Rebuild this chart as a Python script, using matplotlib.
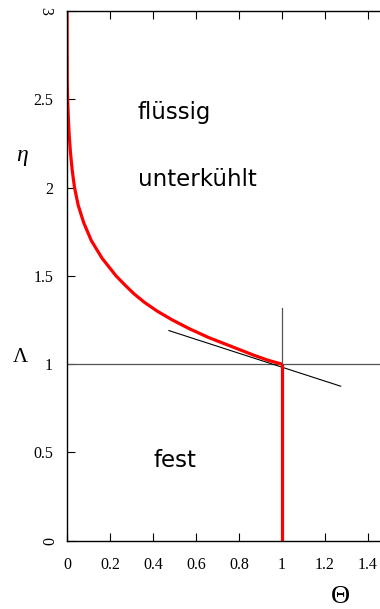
import numpy as np
import matplotlib.pyplot as plt

theta = [0.0, 0.0005, 0.001, 0.003, 0.006, 0.01, 0.016, 0.024, 0.035, 0.052,
         0.078, 0.113, 0.163, 0.228, 0.268, 0.31, 0.36, 0.42, 0.49, 0.57,
         0.66, 0.765, 0.87, 0.935, 1.0]
eta = [3.0, 2.8, 2.6, 2.5, 2.4, 2.3, 2.2, 2.1, 2.0, 1.9,
       1.8, 1.7, 1.6, 1.5, 1.45, 1.4, 1.35, 1.3, 1.25, 1.2,
       1.15, 1.1, 1.05, 1.022, 1.0]

# solid branch at Theta = 1
solid_theta = [1.0, 1.0]
solid_eta = [1.0, 0.0]

# tangent through the melting point
tan_theta = [0.474, 1.273]
tan_eta = [1.19, 0.875]

# marker lines
hline_y = 1.0
vline_theta = [1.0, 1.0]
vline_eta = [1.0, 1.32]

xticks = [0, 0.2, 0.4, 0.6, 0.8, 1.0, 1.2, 1.4]
xticklabels = ['0', '0.2', '0.4', '0.6', '0.8', '1', '1.2', '1.4']
yticks = [0, 0.5, 1.0, 1.5, 2.0, 2.5, 3.0]
yticklabels = ['0', '0.5', '1', '1.5', '2', '2.5', '3']

serif = 'Liberation Serif'

fig = plt.figure(figsize=(3.8, 6.09), dpi=100)
ax = fig.add_axes([67/380, 1 - 540.7/609, 1 - 67/380, (540.7 - 11)/609])

ax.axhline(hline_y, color='#555555', lw=0.9)
ax.plot(vline_theta, vline_eta, color='#555555', lw=0.9)
ax.plot(tan_theta, tan_eta, color='black', lw=0.8)
ax.plot(theta, eta, color='red', lw=2.3, solid_capstyle='butt',
        solid_joinstyle='round')
ax.plot(solid_theta, solid_eta, color='red', lw=2.3, solid_capstyle='butt')

ax.set_xlim(0, (380 - 67) / 215)
ax.set_ylim(0, 3)
ax.spines['right'].set_visible(False)
for s in ['left', 'top', 'bottom']:
    ax.spines[s].set_linewidth(1.0)

ax.set_xticks(xticks)
ax.set_xticklabels(xticklabels, fontfamily=serif, fontsize=11.5)
ax.set_yticks(yticks)
ax.set_yticklabels(yticklabels, fontfamily=serif, fontsize=11.5)
ax.tick_params(axis='x', direction='in', top=True, length=5.5, width=0.8, pad=12)
ax.tick_params(axis='y', direction='in', length=5.5, width=0.8, pad=10)

# end labels on the y axis are turned sideways
ylabs = ax.get_yticklabels()
for lab in (ylabs[0], ylabs[-1]):
    lab.set_rotation(-90)
    lab.set_verticalalignment('center')

fig.text(22/380, 1 - 156/609, 'η', fontfamily=serif, fontstyle='italic',
         fontsize=17, ha='center', va='center')
fig.text(20/380, 1 - 358/609, 'Λ', fontfamily=serif, fontsize=15,
         ha='center', va='center')
fig.text(340/380, 1 - 597/609, 'Θ', fontfamily=serif, fontsize=19,
         ha='center', va='center')

ax.text(0.33, 2.39, 'flüssig', fontsize=16.5, ha='left', va='baseline')
ax.text(0.33, 2.01, 'unterkühlt', fontsize=16.5, ha='left', va='baseline')
ax.text(0.40, 0.417, 'fest', fontsize=16.5, ha='left', va='baseline')

plt.savefig('out.png', dpi=100)
